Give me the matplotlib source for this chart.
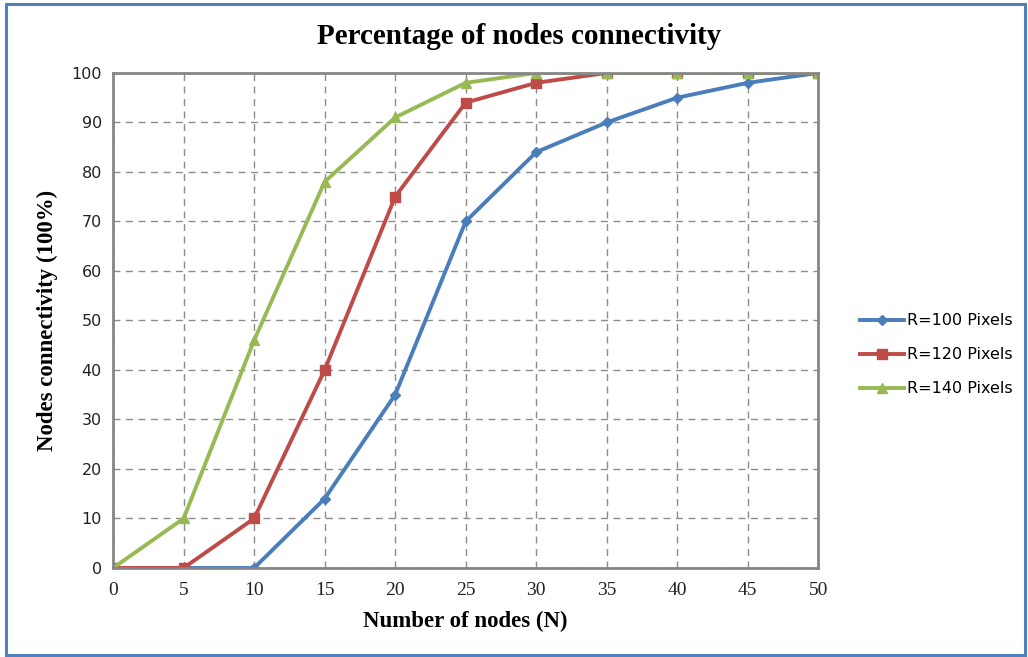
import matplotlib
matplotlib.use("Agg")
import matplotlib.pyplot as plt
from matplotlib.patches import Rectangle

nodes = [0, 5, 10, 15, 20, 25, 30, 35, 40, 45, 50]
r100 = [0, 0, 0, 14, 35, 70, 84, 90, 95, 98, 100]
r120 = [0, 0, 10, 40, 75, 94, 98, 100, 100, 100, 100]
r140 = [0, 10, 46, 78, 91, 98, 100, 100, 100, 100, 100]
labels = ["R=100 Pixels", "R=120 Pixels", "R=140 Pixels"]
yticks = list(range(0, 101, 10))

fig = plt.figure(figsize=(10.28, 6.57), dpi=100)
fig.patch.set_facecolor("white")
ax = fig.add_axes([0.110, 0.1355, 0.686, 0.7535])

# outer frame
fig.patches.append(Rectangle((6/1028, 2/657), (1025-6)/1028, (653-2)/657,
                             transform=fig.transFigure, fill=False,
                             edgecolor="#4f81bd", linewidth=2.2))

ax.plot(nodes, r100, color="#4a7ebb", lw=2.8, marker="D", ms=5, label=labels[0])
ax.plot(nodes, r120, color="#be4b48", lw=2.8, marker="s", ms=6.5, label=labels[1])
ax.plot(nodes, r140, color="#98b954", lw=2.8, marker="^", ms=6.5, label=labels[2])

ax.set_xlim(0, 50)
ax.set_ylim(0, 100)
ax.set_xticks(nodes)
ax.set_yticks(yticks)
ax.grid(True, linestyle=(0, (5, 4)), color="#8c8c8c", linewidth=1.0)
ax.set_axisbelow(True)
for s in ax.spines.values():
    s.set_color("#868686")
    s.set_linewidth(2)
ax.tick_params(axis="x", length=0, pad=10, colors="#222222")
ax.tick_params(axis="y", length=0, pad=8, colors="#222222")
for t in ax.get_xticklabels():
    t.set_fontfamily("Liberation Serif")
    t.set_fontsize(14)
for t in ax.get_yticklabels():
    t.set_fontfamily("DejaVu Sans")
    t.set_fontsize(11.5)

ax.set_xlabel("Number of nodes (N)", fontfamily="Liberation Serif",
              fontweight="bold", fontsize=16.5, labelpad=9)
ax.set_ylabel("Nodes connectivity (100%)", fontfamily="Liberation Serif",
              fontweight="bold", fontsize=16.5, labelpad=10)
fig.text(0.505, 0.945, "Percentage of nodes connectivity", ha="center", va="center",
         fontfamily="Liberation Serif", fontweight="bold", fontsize=21)

leg = fig.legend(loc="center left", bbox_to_anchor=(0.823, 0.46), frameon=False,
                 prop={"family": "DejaVu Sans", "size": 11.5}, handlelength=2.7,
                 handletextpad=0.2, labelspacing=1.2)

fig.savefig("out.png", dpi=100, facecolor="white")
